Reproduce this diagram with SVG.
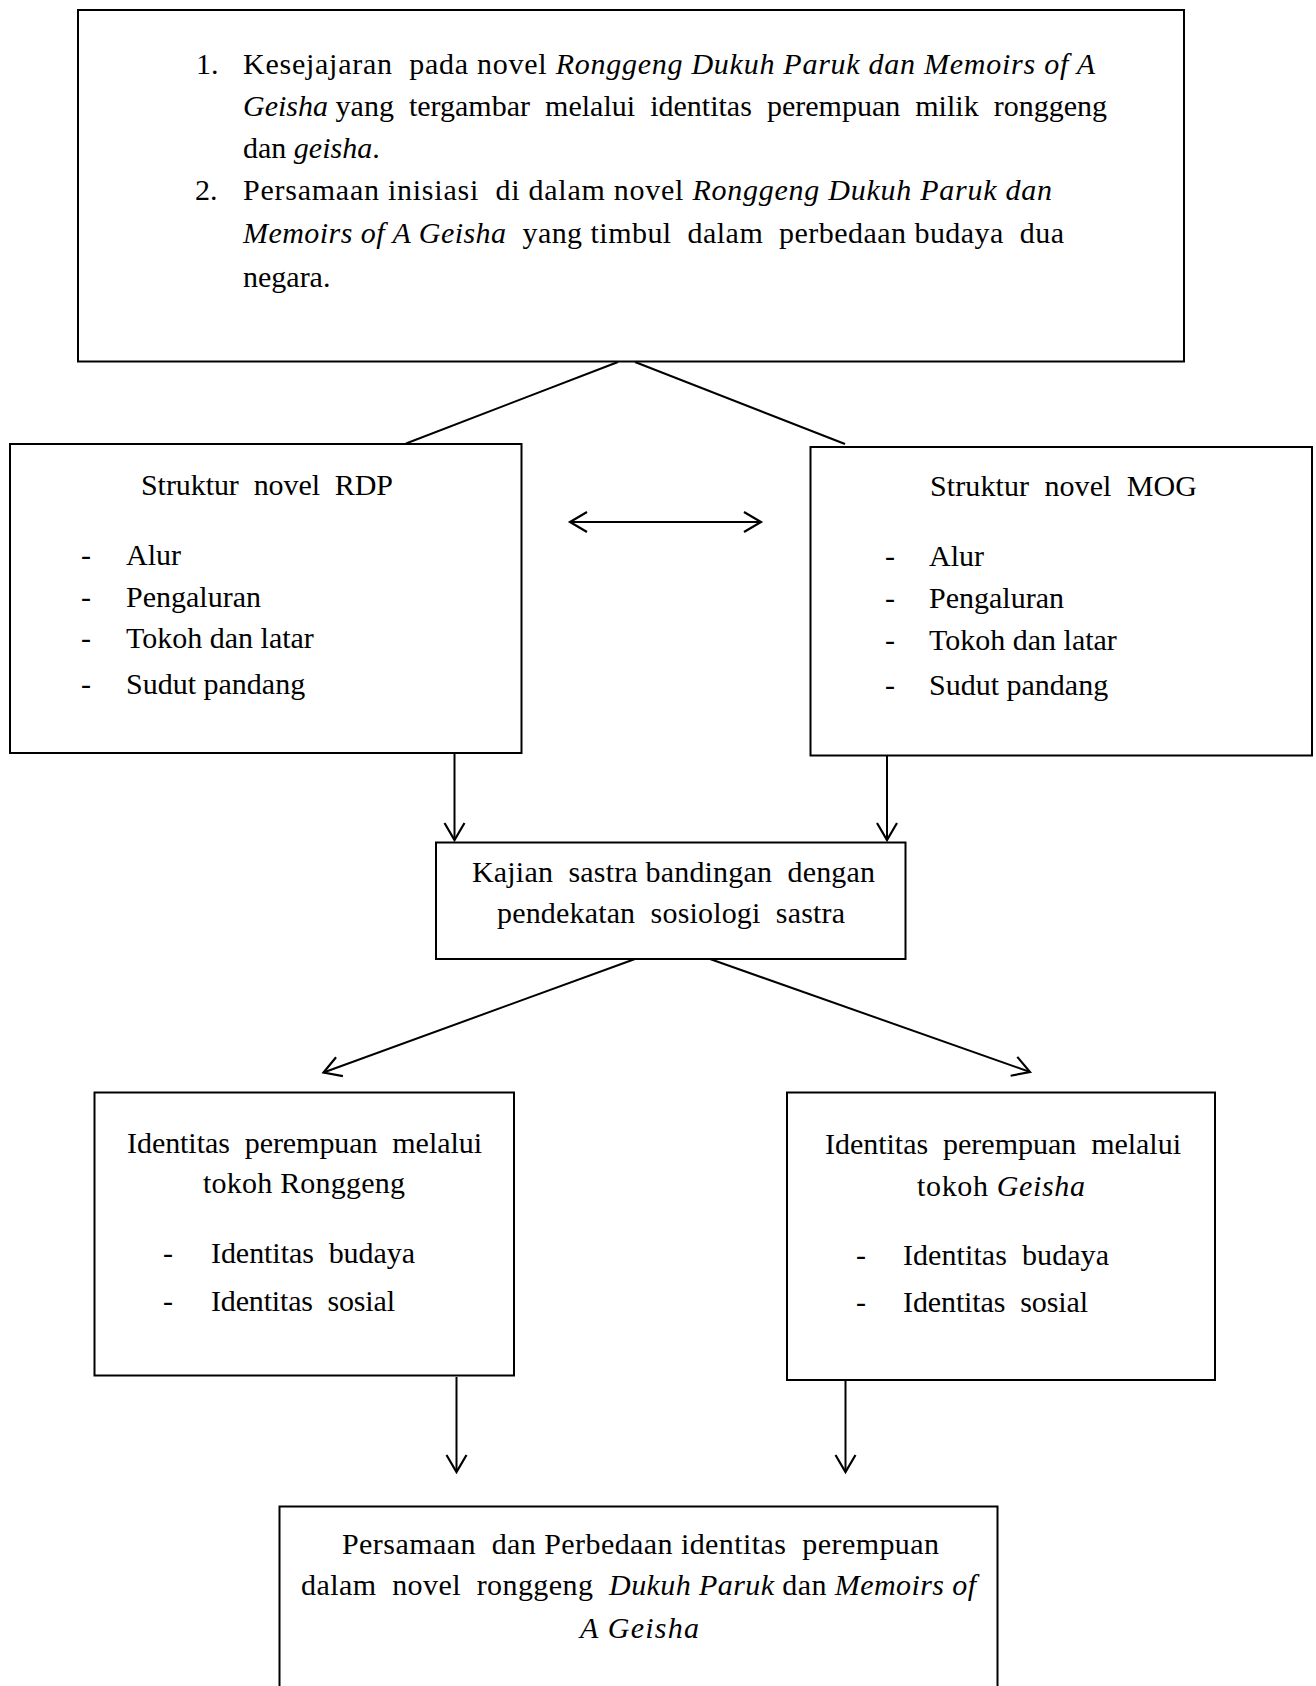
<svg xmlns="http://www.w3.org/2000/svg" width="1316" height="1686" viewBox="0 0 1316 1686">
<style>
.box{fill:#fff;stroke:#000;stroke-width:2}
.t{font-family:"Liberation Serif","Times New Roman",serif;font-size:30px;fill:#000;white-space:pre}
.i{font-style:italic}
.c{fill:none;stroke:#000;stroke-width:2}
</style>
<defs>
<marker id="ah" markerUnits="userSpaceOnUse" markerWidth="24" markerHeight="24" viewBox="-20 -12 24 24" refX="0" refY="0" orient="auto-start-reverse">
<path d="M-17,-10 L0,0 L-17,10" fill="none" stroke="#000" stroke-width="2.2"/>
</marker>
</defs>
<rect width="1316" height="1686" fill="#fff"/>

<g id="connectors">
<line class="c" x1="618" y1="362" x2="406" y2="443.5"/>
<line class="c" x1="635" y1="362" x2="845" y2="444"/>
<line class="c" x1="570" y1="522" x2="761" y2="522" marker-start="url(#ah)" marker-end="url(#ah)"/>
<line class="c" x1="454.5" y1="754" x2="454.5" y2="840" marker-end="url(#ah)"/>
<line class="c" x1="887" y1="756" x2="887" y2="840" marker-end="url(#ah)"/>
<line class="c" x1="635" y1="959" x2="323.5" y2="1072.5" marker-end="url(#ah)"/>
<line class="c" x1="710" y1="959" x2="1030" y2="1072" marker-end="url(#ah)"/>
<line class="c" x1="456.5" y1="1377" x2="456.5" y2="1472" marker-end="url(#ah)"/>
<line class="c" x1="845.5" y1="1381" x2="845.5" y2="1472" marker-end="url(#ah)"/>
</g>

<g id="node-top">
<rect class="box" x="78" y="10" width="1106" height="351.5"/>
<text class="t" x="196" y="74">1.</text>
<text class="t" x="243" y="74" textLength="852" lengthAdjust="spacing">Kesejajaran  pada novel <tspan class="i">Ronggeng Dukuh Paruk dan Memoirs of A</tspan></text>
<text class="t" x="243" y="116" textLength="864" lengthAdjust="spacing"><tspan class="i">Geisha</tspan> yang  tergambar  melalui  identitas  perempuan  milik  ronggeng</text>
<text class="t" x="243" y="158">dan <tspan class="i">geisha</tspan>.</text>
<text class="t" x="195" y="200">2.</text>
<text class="t" x="243" y="200" textLength="809" lengthAdjust="spacing">Persamaan inisiasi  di dalam novel <tspan class="i">Ronggeng Dukuh Paruk dan</tspan></text>
<text class="t" x="243" y="243" textLength="821" lengthAdjust="spacing"><tspan class="i">Memoirs of A Geisha</tspan>  yang timbul  dalam  perbedaan budaya  dua</text>
<text class="t" x="243" y="287">negara.</text>
</g>

<g id="node-rdp">
<rect class="box" x="10" y="444" width="511.5" height="309"/>
<text class="t" x="141" y="495" textLength="252" lengthAdjust="spacing">Struktur  novel  RDP</text>
<text class="t" x="81" y="564.5">-</text><text class="t" x="126" y="564.5">Alur</text>
<text class="t" x="81" y="606.5">-</text><text class="t" x="126" y="606.5">Pengaluran</text>
<text class="t" x="81" y="648">-</text><text class="t" x="126" y="648">Tokoh dan latar</text>
<text class="t" x="81" y="694">-</text><text class="t" x="126" y="694">Sudut pandang</text>
</g>

<g id="node-mog">
<rect class="box" x="810.5" y="447" width="501.5" height="308.5"/>
<text class="t" x="930" y="496" textLength="267" lengthAdjust="spacing">Struktur  novel  MOG</text>
<text class="t" x="885" y="566">-</text><text class="t" x="929" y="566">Alur</text>
<text class="t" x="885" y="608">-</text><text class="t" x="929" y="608">Pengaluran</text>
<text class="t" x="885" y="650">-</text><text class="t" x="929" y="650">Tokoh dan latar</text>
<text class="t" x="885" y="695">-</text><text class="t" x="929" y="695">Sudut pandang</text>
</g>

<g id="node-kajian">
<rect class="box" x="436" y="842.5" width="469.5" height="116.5"/>
<text class="t" x="472" y="882" textLength="403" lengthAdjust="spacing">Kajian  sastra bandingan  dengan</text>
<text class="t" x="497" y="923" textLength="348" lengthAdjust="spacing">pendekatan  sosiologi  sastra</text>
</g>

<g id="node-ronggeng">
<rect class="box" x="94.5" y="1092.5" width="419.5" height="283"/>
<text class="t" x="127" y="1153" textLength="355" lengthAdjust="spacing">Identitas  perempuan  melalui</text>
<text class="t" x="203" y="1193" textLength="202" lengthAdjust="spacing">tokoh Ronggeng</text>
<text class="t" x="163" y="1263">-</text><text class="t" x="211" y="1263" textLength="204" lengthAdjust="spacing">Identitas  budaya</text>
<text class="t" x="163" y="1311">-</text><text class="t" x="211" y="1311" textLength="184" lengthAdjust="spacing">Identitas  sosial</text>
</g>

<g id="node-geisha">
<rect class="box" x="787" y="1092.5" width="428" height="287.5"/>
<text class="t" x="825" y="1154" textLength="356" lengthAdjust="spacing">Identitas  perempuan  melalui</text>
<text class="t" x="917" y="1196" textLength="168" lengthAdjust="spacing">tokoh <tspan class="i">Geisha</tspan></text>
<text class="t" x="856" y="1265">-</text><text class="t" x="903" y="1265" textLength="206" lengthAdjust="spacing">Identitas  budaya</text>
<text class="t" x="856" y="1312">-</text><text class="t" x="903" y="1312" textLength="185" lengthAdjust="spacing">Identitas  sosial</text>
</g>

<g id="node-bottom">
<rect class="box" x="279.5" y="1506.5" width="718" height="220"/>
<text class="t" x="342" y="1554" textLength="597" lengthAdjust="spacing">Persamaan  dan Perbedaan identitas  perempuan</text>
<text class="t" x="301" y="1595" textLength="675" lengthAdjust="spacing">dalam  novel  ronggeng  <tspan class="i">Dukuh Paruk</tspan> dan <tspan class="i">Memoirs of</tspan></text>
<text class="t i" x="580" y="1638" textLength="119" lengthAdjust="spacing">A Geisha</text>
</g>
</svg>
